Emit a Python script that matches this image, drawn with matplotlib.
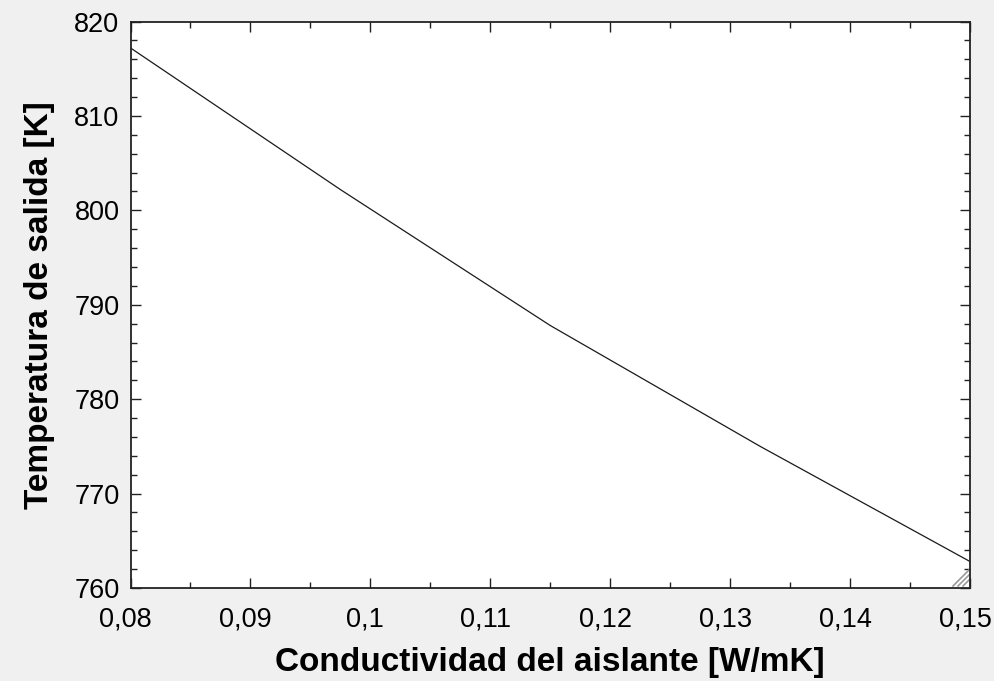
import matplotlib
matplotlib.use("Agg")
import matplotlib.pyplot as plt
import matplotlib.transforms as mtransforms
from matplotlib.ticker import MultipleLocator, FuncFormatter

# Data
conductividad = [0.08, 0.0975, 0.115, 0.1325, 0.15]
temperatura = [817.2, 802.2, 787.8, 775.0, 762.8]

x_label = "Conductividad del aislante [W/mK]"
y_label = "Temperatura de salida [K]"
x_limits = (0.08, 0.15)
y_limits = (760, 820)

plt.rcParams['font.family'] = ['Liberation Sans', 'DejaVu Sans']

fig = plt.figure(figsize=(9.94, 6.81), dpi=100, facecolor='#f0f0f0')
ax = fig.add_axes([0.1313, 0.1366, 0.9759 - 0.1313, 0.9684 - 0.1366])
ax.set_facecolor('white')

ax.plot(conductividad, temperatura, color='#1a1a1a', linewidth=0.9)

ax.set_xlim(*x_limits)
ax.set_ylim(*y_limits)
ax.xaxis.set_major_locator(MultipleLocator(0.01))
ax.xaxis.set_minor_locator(MultipleLocator(0.005))
ax.yaxis.set_major_locator(MultipleLocator(10))
ax.yaxis.set_minor_locator(MultipleLocator(2))

def fmt_x(v, pos):
    s = f"{v:.2f}".rstrip('0').rstrip('.')
    return s.replace('.', ',')

ax.xaxis.set_major_formatter(FuncFormatter(fmt_x))
ax.yaxis.set_major_formatter(FuncFormatter(lambda v, p: f"{v:.0f}"))

ax.tick_params(which='both', direction='in', top=True, right=True,
               color='#222222', width=1.0)
ax.tick_params(which='major', length=7, labelsize=19.5)
ax.tick_params(axis='x', which='major', pad=13)
ax.tick_params(axis='y', which='major', pad=8)
ax.tick_params(which='minor', length=4)

# shift x tick labels slightly left, as in the reference
shift = mtransforms.ScaledTranslation(-5 / 100, 0, fig.dpi_scale_trans)
for lbl in ax.get_xticklabels():
    lbl.set_transform(lbl.get_transform() + shift)

for sp in ax.spines.values():
    sp.set_color('#222222')
    sp.set_linewidth(1.3)

ax.set_xlabel(x_label, fontsize=24, fontweight='bold', labelpad=11)
ax.set_ylabel(y_label, fontsize=24, fontweight='bold', labelpad=14)

# small resize-grip decoration in bottom-right corner
w_px, h_px = 839.0, 566.5
for a in (6, 11, 16):
    ax.plot([1 - (a + 1) / w_px, 1 - 1 / w_px], [2 / h_px, (a + 2) / h_px],
            transform=ax.transAxes, color='#999999', linewidth=1.2, clip_on=False)

fig.savefig("out.png", dpi=100, facecolor=fig.get_facecolor())
